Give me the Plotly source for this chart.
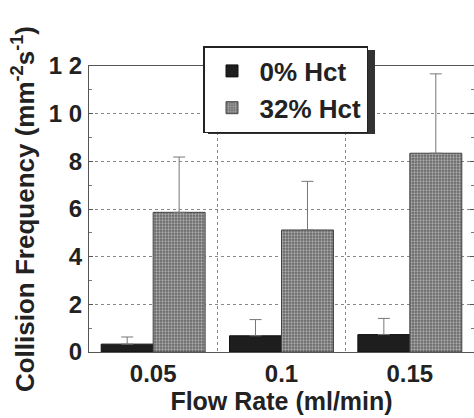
import plotly.graph_objects as go

flow_rates = ["0.05", "0.1", "0.15"]
hct0_values = [0.33, 0.68, 0.73]
hct0_err = [0.30, 0.68, 0.68]
hct32_values = [5.86, 5.12, 8.34]
hct32_err = [2.32, 2.04, 3.33]
y_tickvals = [0, 2, 4, 6, 8, 10, 12]
y_ticktext = ["0", "2", "4", "6", "8", "1 0", "1 2"]

x_pos = list(range(len(flow_rates)))
FONT = "Liberation Sans, Arial, Helvetica, sans-serif"

fig = go.Figure()
fig.add_trace(go.Bar(
    x=x_pos, y=hct0_values, name="0% Hct",
    marker=dict(color="#1e1e1e", line=dict(color="#111111", width=1)),
    error_y=dict(type="data", array=hct0_err, arrayminus=[0]*3, symmetric=False,
                 color="#777777", thickness=1, width=6),
    legendgroup="a",
))
fig.add_trace(go.Bar(
    x=x_pos, y=hct32_values, name="32% Hct",
    marker=dict(color="#777777", line=dict(color="#444444", width=1),
                pattern=dict(shape=".", fgcolor="#f2f2f2", bgcolor="#666666", size=3, solidity=0.45)),
    error_y=dict(type="data", array=hct32_err, arrayminus=[0]*3, symmetric=False,
                 color="#777777", thickness=1, width=6),
    legendgroup="b",
))

# legend drop shadow (sits under the legend box)
PW, PH = 385, 286
fig.add_shape(type="rect", xref="paper", yref="paper",
              x0=(208-89)/PW, x1=(375-89)/PW, y0=(352-134)/PH, y1=(352-50)/PH,
              fillcolor="#333333", line=dict(width=0), layer="above")

fig.update_layout(
    width=474, height=418,
    margin=dict(l=89, r=0, t=66, b=66, autoexpand=False),
    paper_bgcolor="white", plot_bgcolor="white",
    font=dict(family=FONT, color="#222222", size=22, weight="bold"),
    barmode="group", bargap=0.19, bargroupgap=0,
    showlegend=True,
    legend=dict(x=(203-89)/PW, y=(352-46)/PH, xanchor="left", yanchor="top",
                bgcolor="white", bordercolor="#222222", borderwidth=1.5,
                font=dict(size=26, family=FONT, weight="bold"),
                tracegroupgap=0, itemwidth=45),
    xaxis=dict(
        tickmode="array", tickvals=x_pos, ticktext=flow_rates,
        range=[-0.5, 2.5], showgrid=False, ticks="", zeroline=False,
        showline=True, linecolor="#555555", linewidth=1, mirror=True,
        tickfont=dict(size=24, family=FONT, weight="bold"),
        title=dict(text="Flow Rate (ml/min)", font=dict(size=25, family=FONT, weight="bold"), standoff=2),
        minor=dict(tickmode="array", tickvals=[0.5, 1.5], showgrid=True,
                   gridcolor="#888888", griddash="dot", gridwidth=1, ticks=""),
    ),
    yaxis=dict(
        range=[0, 12], tickmode="array", tickvals=y_tickvals, ticktext=y_ticktext,
        showgrid=True, gridcolor="#888888", griddash="dot", gridwidth=1,
        zeroline=False, showline=True, linecolor="#555555", linewidth=1, mirror="ticks",
        ticks="inside", ticklen=4, tickcolor="#555555",
        tickfont=dict(size=24, family=FONT, weight="bold"), ticklabelstandoff=1,
        minor=dict(dtick=1, ticks="inside", ticklen=3, tickcolor="#777777", showgrid=False),
        title=dict(text="Collision Frequency (mm<sup>-2</sup>s<sup>-1</sup>)",
                   font=dict(size=26, family=FONT, weight="bold"), standoff=6),
    ),
)

fig.write_html("out.html", config={"displayModeBar": False},
               post_script="document.body.style.margin='0';document.body.style.padding='0';")
